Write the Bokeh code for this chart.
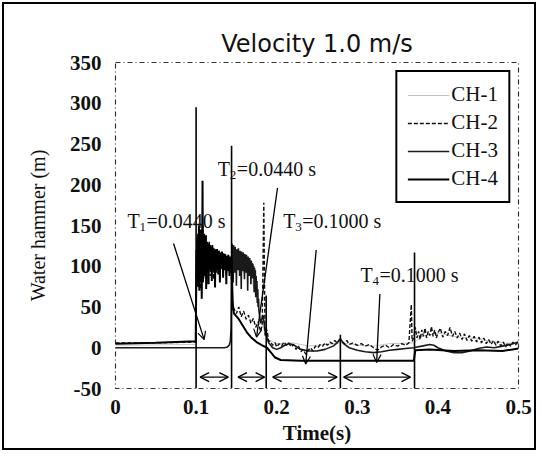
from bokeh.plotting import figure
from bokeh.models import (ColumnDataSource, Legend, LegendItem, Arrow, OpenHead,
                          FixedTicker, Range1d)
from bokeh.embed import file_html
from bokeh.resources import INLINE
from bokeh.core.properties import value

# ---------------- data ----------------
x_ticks = [0, 0.1, 0.2, 0.3, 0.4, 0.5]
x_tick_labels = ["0", "0.1", "0.2", "0.3", "0.4", "0.5"]
y_ticks = [-50, 0, 50, 100, 150, 200, 250, 300, 350]
y_tick_labels = ["-50", "0", "50", "100", "150", "200", "250", "300", "350"]

series_names = ["CH-1", "CH-2", "CH-3", "CH-4"]

# CH-4 : solid black (initial ~6 m, surge at 0.100 s)
ch4_t = [0.0, 0.05, 0.0995,
         0.1000,
         0.1005, 0.1010, 0.1015, 0.1020, 0.1025, 0.1030, 0.1035, 0.1040, 0.1045, 0.1050,
         0.1055, 0.1060, 0.1065, 0.1070, 0.1075, 0.1080, 0.1085, 0.1090, 0.1095, 0.1100,
         0.1105, 0.1110, 0.1115, 0.1120, 0.1125, 0.1130, 0.1135, 0.1140, 0.1145, 0.1150,
         0.1155, 0.1160, 0.1165, 0.1170, 0.1175, 0.1180, 0.1185, 0.1190, 0.1195, 0.1200,
         0.1205, 0.1210, 0.1215, 0.1220, 0.1225, 0.1230, 0.1235, 0.1240, 0.1245, 0.1250,
         0.1255, 0.1260, 0.1265, 0.1270, 0.1275, 0.1280, 0.1285, 0.1290, 0.1295, 0.1300,
         0.1305, 0.1310, 0.1315, 0.1320, 0.1325, 0.1330, 0.1335, 0.1340, 0.1345, 0.1350,
         0.1355, 0.1360, 0.1365, 0.1370, 0.1375, 0.1380, 0.1385, 0.1390, 0.1395, 0.1400,
         0.1405, 0.1410, 0.1415, 0.1420, 0.1425, 0.1430, 0.1435, 0.1440, 0.1445, 0.1450,
         0.1455, 0.1460,
         0.147, 0.153, 0.158, 0.163, 0.168, 0.175, 0.182, 0.188, 0.193, 0.198,
         0.205, 0.23, 0.26, 0.30, 0.34, 0.370, 0.372, 0.39, 0.42, 0.45, 0.48, 0.50]
ch4_v = [5, 6, 8,
         60,
         120, 95, 135, 75, 140, 90, 150, 70, 130, 85,
         145, 95, 128, 60, 125, 205, 80, 132, 98, 140,
         88, 126, 102, 138, 72, 122, 100, 130, 92, 125,
         78, 128, 104, 120, 96, 126, 100, 118, 82, 124,
         102, 116, 95, 122, 104, 118, 74, 120, 100, 116,
         96, 121, 103, 115, 90, 119, 101, 114, 80, 117,
         100, 113, 97, 118, 102, 112, 86, 116, 100, 111,
         95, 115, 101, 110, 78, 113, 99, 109, 94, 114,
         100, 108, 88, 112, 98, 107, 96, 110, 92, 70,
         55, 50,
         42, 35, 27, 19, 13, 7, 3, 0, -6, -12,
         -15, -16, -16, -16, -16, -16, -3, -2, -4, -3, -4, -1]

# CH-2 : dashed black
ch2_t = [0.0, 0.05, 0.0995,
         0.1005, 0.1015, 0.1025, 0.1035, 0.1045, 0.1055, 0.1065, 0.1075, 0.1085, 0.1095,
         0.1105, 0.1115, 0.1125, 0.1135, 0.1145, 0.1155, 0.1165, 0.1175, 0.1185, 0.1195,
         0.1205, 0.1215, 0.1225, 0.1235, 0.1245, 0.1255, 0.1265, 0.1275, 0.1285, 0.1295,
         0.1305, 0.1315, 0.1325, 0.1335, 0.1345, 0.1355, 0.1365, 0.1375, 0.1385, 0.1395,
         0.1405, 0.1415, 0.1425, 0.1435, 0.1445, 0.1455,
         0.147, 0.150, 0.153, 0.156, 0.159, 0.162, 0.165, 0.168, 0.171, 0.174,
         0.177, 0.180, 0.182, 0.184, 0.1855, 0.188, 0.190,
         0.192, 0.195, 0.198, 0.200, 0.203, 0.206, 0.209, 0.212, 0.215, 0.218,
         0.221, 0.224, 0.227, 0.230, 0.233, 0.236, 0.239, 0.242, 0.245, 0.248,
         0.251, 0.254, 0.257, 0.260, 0.263, 0.266, 0.269, 0.272, 0.275, 0.278,
         0.281, 0.284, 0.287, 0.290, 0.295, 0.300, 0.305, 0.310, 0.315, 0.320,
         0.325, 0.330, 0.335, 0.340, 0.345, 0.350, 0.355, 0.360, 0.364, 0.367,
         0.368, 0.370, 0.372, 0.374, 0.376, 0.378, 0.380, 0.382, 0.384, 0.386,
         0.388, 0.390, 0.392, 0.394, 0.396, 0.398, 0.400, 0.403, 0.406, 0.409,
         0.412, 0.415, 0.418, 0.421, 0.424, 0.427, 0.430, 0.433, 0.436, 0.439,
         0.442, 0.445, 0.448, 0.451, 0.454, 0.457, 0.460, 0.463, 0.466, 0.469,
         0.472, 0.475, 0.478, 0.481, 0.484, 0.487, 0.490, 0.493, 0.496, 0.500]
ch2_v = [6, 6, 7,
         110, 80, 128, 95, 140, 72, 118, 100, 150, 85,
         122, 105, 138, 78, 116, 96, 130, 88, 112, 102,
         126, 84, 110, 98, 121, 92, 108, 100, 119, 86,
         113, 97, 117, 90, 106, 101, 114, 88, 108, 96,
         112, 92, 104, 98, 60, 45,
         48, 42, 50, 38, 45, 35, 40, 30, 36, 25,
         32, 20, 28, 178, 15, 22, 8,
         8, 3, 6, 1, 5, 2, 7, 3, 6, 1,
         4, -2, 2, -5, -2, -8, -3, 0, -4, 2,
         0, 4, 2, 6, 3, 7, 5, 9, 6, 10,
         8, 5, 9, 4, 6, 3, 5, 2, 4, 0,
         -3, 1, 3, 0, 4, 2, 5, 3, 6, 53,
         8, 12, 25, 12, 20, 10, 22, 14, 24, 12,
         20, 15, 26, 14, 22, 12, 18, 24, 13, 20,
         15, 25, 14, 20, 12, 18, 10, 17, 9, 15,
         8, 14, 7, 13, 6, 12, 5, 10, 4, 9,
         3, 8, 2, 7, 1, 6, 2, 7, 3, 8]

# CH-3 : dark solid (initial ~0 m, surge at 0.143 s)
ch3_t = [0.0, 0.135, 0.139, 0.141, 0.1425, 0.1435,
         0.1440, 0.1445, 0.1450, 0.1455, 0.1460, 0.1465, 0.1470, 0.1475, 0.1480, 0.1485,
         0.1490, 0.1495, 0.1500, 0.1505, 0.1510, 0.1515, 0.1520, 0.1525, 0.1530, 0.1535,
         0.1540, 0.1545, 0.1550, 0.1555, 0.1560, 0.1565, 0.1570, 0.1575, 0.1580, 0.1585,
         0.1590, 0.1595, 0.1600, 0.1605, 0.1610, 0.1615, 0.1620, 0.1625, 0.1630, 0.1635,
         0.1640, 0.1645, 0.1650, 0.1655, 0.1660, 0.1665, 0.1670, 0.1675, 0.1680, 0.1685,
         0.1690, 0.1695, 0.1700, 0.1705, 0.1710, 0.1715, 0.1720, 0.1725, 0.1730, 0.1735,
         0.1740, 0.1745, 0.1750, 0.1755, 0.1760, 0.1765, 0.1770, 0.1775, 0.1780,
         0.180, 0.183, 0.186, 0.190, 0.195,
         0.200, 0.205, 0.210, 0.215, 0.220, 0.225, 0.230, 0.240, 0.250, 0.260,
         0.270, 0.275, 0.279, 0.283, 0.290, 0.300, 0.310, 0.320, 0.330, 0.340,
         0.350, 0.360, 0.370, 0.380, 0.390, 0.395, 0.400, 0.410, 0.420, 0.430,
         0.440, 0.450, 0.460, 0.470, 0.480, 0.490, 0.500]
ch3_v = [0, 0, 1, 3, 8, 25,
         90, 128, 95, 122, 80, 126, 100, 120, 92, 124,
         104, 118, 76, 121, 100, 117, 95, 122, 103, 115,
         88, 119, 101, 114, 72, 118, 99, 113, 94, 117,
         100, 112, 84, 115, 98, 111, 92, 114, 97, 109,
         70, 112, 96, 108, 88, 110, 94, 106, 78, 107,
         92, 104, 85, 103, 90, 100, 68, 98, 84, 95,
         62, 88, 70, 82, 55, 72, 50, 60, 45,
         30, 40, 18, 6, 0,
         -2, 0, 3, 5, 4, 1, -2, -4, -4, -2,
         2, 6, 11, 5, 0, -3, -5, -6, -5, -3,
         -2, -1, 0, 2, 4, 3, 0, -4, -6, -6,
         -4, -1, 1, 0, 2, 4, 7]

# CH-1 : light grey
ch1_t = [0.0, 0.0995, 0.101, 0.105, 0.110, 0.115, 0.120, 0.125, 0.130, 0.135,
         0.140, 0.145, 0.150, 0.155, 0.160, 0.165, 0.170, 0.175, 0.180, 0.185,
         0.190, 0.200, 0.220, 0.240, 0.260, 0.280, 0.300, 0.320, 0.340, 0.370,
         0.380, 0.400, 0.420, 0.440, 0.460, 0.480, 0.500]
ch1_v = [3, 4, 80, 120, 95, 125, 100, 118, 96, 112,
         100, 108, 95, 105, 90, 100, 80, 60, 35, 20,
         10, 5, 6, 2, 4, 6, 3, 2, 5, 6,
         14, 18, 14, 12, 9, 6, 5]

# boundary lines of the surge periods
mark_t = [0.100, 0.144, 0.187, 0.279, 0.371]
mark_top = [295, 248, 64, 16, 117]

# double arrows (period spans)
span_start = [0.105, 0.152, 0.195, 0.283]
span_end = [0.140, 0.185, 0.275, 0.366]
span_v = [-36, -36, -36, -36]

# annotation texts
ann_sub = ["1", "2", "3", "4"]
ann_rest = ["=0.0440 s", "=0.0440 s", "=0.1000 s", "=0.1000 s"]
ann_t = [0.015, 0.127, 0.208, 0.304]
ann_v = [156, 219, 156, 89]
lead_t0 = [0.072, 0.201, 0.249, 0.328]
lead_v0 = [128, 196, 120, 66]
lead_t1 = [0.110, 0.175, 0.236, 0.324]
lead_v1 = [10, 13, -20, -18]

# ---------------- figure ----------------
p = figure(width=534, height=448, output_backend="svg", toolbar_location=None,
           x_range=Range1d(0, 0.5), y_range=Range1d(-50, 350),
           min_border_left=111, min_border_right=20,
           min_border_top=58, min_border_bottom=64,
           background_fill_color="white", border_fill_color="white",
           margin=(2, 2, 2, 2),
           styles={"border": "2px solid black"})

p.title.text = "Velocity 1.0 m/s"
p.title.align = "center"
p.title.text_font = "DejaVu Sans"
p.title.text_font_size = "24px"
p.title.text_font_style = "normal"
p.title.text_color = "#111111"
p.title.standoff = 10

p.xgrid.visible = False
p.ygrid.visible = False
p.outline_line_color = "#333333"
p.outline_line_dash = "5 3 1 3"
p.outline_line_width = 1.2

for ax in (p.xaxis, p.yaxis):
    ax.axis_line_color = None
    ax.major_tick_line_color = None
    ax.minor_tick_line_color = None
    ax.major_label_text_font = "Liberation Serif"
    ax.major_label_text_font_style = "bold"
    ax.major_label_text_font_size = "21px"
    ax.major_label_text_color = "#111111"
    ax.axis_label_text_font = "Liberation Serif"
    ax.axis_label_text_color = "#111111"

p.xaxis.ticker = FixedTicker(ticks=x_ticks)
p.xaxis.major_label_overrides = dict(zip(x_ticks, x_tick_labels))
p.yaxis.ticker = FixedTicker(ticks=y_ticks)
p.yaxis.major_label_overrides = dict(zip(y_ticks, y_tick_labels))
p.xaxis.major_label_standoff = 5
p.yaxis.major_label_standoff = 8
p.xaxis.axis_label = "Time(s)"
p.xaxis.axis_label_text_font_style = "bold"
p.xaxis.axis_label_text_font_size = "21px"
p.xaxis.axis_label_standoff = 4
p.yaxis.axis_label = "Water hammer (m)"
p.yaxis.axis_label_text_font_style = "normal"
p.yaxis.axis_label_text_font_size = "20px"
p.yaxis.axis_label_standoff = 18

r1 = p.line(ch1_t, ch1_v, line_color="#c4c4c4", line_width=1)
r3 = p.line(ch3_t, ch3_v, line_color="#1a1a1a", line_width=1.6)
r2 = p.line(ch2_t, ch2_v, line_color="#111111", line_width=1.4, line_dash="4 2")
r4 = p.line(ch4_t, ch4_v, line_color="#000000", line_width=2.0)

p.segment(x0=mark_t, y0=[-50] * len(mark_t), x1=mark_t, y1=mark_top,
          line_color="black", line_width=1.6)

span_src = ColumnDataSource(dict(x0=span_start, x1=span_end, y=span_v))
p.add_layout(Arrow(x_start="x0", y_start="y", x_end="x1", y_end="y", source=span_src,
                   start=OpenHead(size=9, line_width=1.3), end=OpenHead(size=9, line_width=1.3),
                   line_width=1.3, line_color="black"))

lead_src = ColumnDataSource(dict(x0=lead_t0, y0=lead_v0, x1=lead_t1, y1=lead_v1))
p.add_layout(Arrow(x_start="x0", y_start="y0", x_end="x1", y_end="y1", source=lead_src,
                   end=OpenHead(size=8, line_width=1.2), line_width=1.3, line_color="black"))

ann_src = ColumnDataSource(dict(x=ann_t, y=ann_v, T=["T"] * 4, sub=ann_sub, rest=ann_rest))
p.text(x="x", y="y", text="T", source=ann_src, text_font=value("Liberation Serif"),
       text_font_size="20px", text_baseline="middle", text_align="left", text_color="#111111")
p.text(x="x", y="y", text="sub", source=ann_src, text_font=value("Liberation Serif"),
       text_font_size="13px", text_baseline="middle", text_align="left", text_color="#111111",
       x_offset=12, y_offset=6)
p.text(x="x", y="y", text="rest", source=ann_src, text_font=value("Liberation Serif"),
       text_font_size="20px", text_baseline="middle", text_align="left", text_color="#111111",
       x_offset=19)

legend = Legend(items=[LegendItem(label=n, renderers=[r]) for n, r in
                       zip(series_names, [r1, r2, r3, r4])],
                location="top_right", margin=8, padding=10, spacing=3,
                glyph_width=42, glyph_height=20, label_height=20, label_standoff=2,
                label_text_font="Liberation Serif", label_text_font_size="21px",
                label_text_color="#111111",
                border_line_color="black", border_line_width=2, border_line_alpha=1,
                background_fill_color="white", background_fill_alpha=1)
p.add_layout(legend)

open("out.html", "w").write(file_html(p, INLINE))
